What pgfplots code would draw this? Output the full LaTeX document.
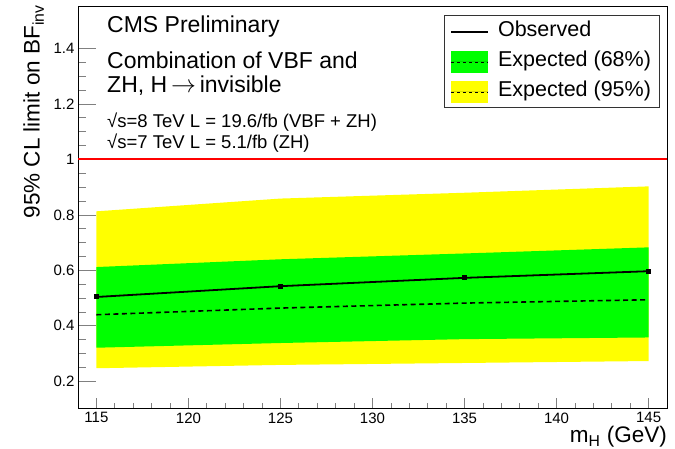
\documentclass[border=0pt]{standalone}
\usepackage{pgfplots}
\pgfplotsset{compat=1.18}
\usepackage{fontspec}
\setmainfont{Liberation Sans}
\definecolor{bandgreen}{RGB}{0,255,0}
\definecolor{bandyellow}{RGB}{255,255,0}
\definecolor{limred}{RGB}{255,0,0}
\begin{document}
\begin{tikzpicture}
\useasboundingbox (0,0) rectangle (675pt,449pt);
\begin{axis}[
  at={(78pt,40pt)}, anchor=south west,
  scale only axis, width=589pt, height=402pt,
  xmin=114, xmax=146, ymin=0.1, ymax=1.55,
  xtick={115,120,...,145}, ytick={0.2,0.4,...,1.4},
  minor x tick num=4, minor y tick num=3,
  xtick pos=bottom, ytick pos=left,
  tick align=inside,
  xtick style={/pgfplots/major tick length=11pt,/pgfplots/minor tick length=6pt, line width=0.8pt},
  ytick style={/pgfplots/major tick length=18pt,/pgfplots/minor tick length=8pt, line width=0.8pt},
  axis line style={line width=1pt},
  /pgf/number format/assume math mode=true,
  tick label style={font=\fontsize{15}{18}\selectfont},
  reverse legend,
  legend style={at={(0.987,0.979)}, anchor=north east, draw=black!80, line width=0.7pt,
    font=\fontsize{21.5}{21.5}\selectfont, inner xsep=6pt, inner ysep=4pt,
    nodes={inner sep=2pt, text height=15pt, text depth=5pt}, row sep=6pt,
    /tikz/every odd column/.append style={column sep=7pt}},
  legend cell align=left,
]
\addplot[draw=none, fill=bandyellow,
  legend image code/.code={\fill[bandyellow] (0pt,-11pt) rectangle (37pt,11pt); \draw[black, dashed, line width=0.5pt] (0pt,0pt) -- (37pt,0pt);}]
  coordinates {(115,0.813) (125,0.859) (135,0.880) (145,0.903) (145,0.273) (135,0.266) (125,0.259) (115,0.247)} -- cycle;
\addlegendentry{Expected (95\%)}
\addplot[draw=none, fill=bandgreen,
  legend image code/.code={\fill[bandgreen] (0pt,-11pt) rectangle (37pt,11pt); \draw[black, dashed, line width=0.5pt] (0pt,0pt) -- (37pt,0pt);}]
  coordinates {(115,0.612) (125,0.640) (135,0.661) (145,0.683) (145,0.358) (135,0.352) (125,0.338) (115,0.321)} -- cycle;
\addlegendentry{Expected (68\%)}
\addplot[forget plot, draw=limred, mark=none, line width=2pt] coordinates {(114,1) (146,1)};
\addplot[forget plot, black, line width=1.6pt, dash pattern=on 5pt off 3.5pt]
  coordinates {(115,0.440) (125,0.464) (135,0.482) (145,0.494)};
\addplot[black, line width=1.8pt, mark=square*, mark size=1.6pt,
  legend image code/.code={\draw[black, line width=1.6pt] (0pt,0pt) -- (37pt,0pt);}]
  coordinates {(115,0.504) (125,0.543) (135,0.573) (145,0.597)};
\addlegendentry{Observed}
\end{axis}
\node[anchor=base west, inner sep=0pt, font=\fontsize{23}{23}\selectfont] at (107pt,416pt) {CMS Preliminary};
\node[anchor=north west, inner sep=0pt, align=left, font=\fontsize{23}{24.5}\selectfont] at (107pt,397.5pt) {Combination of VBF and\\ZH, H\,$\rightarrow$\,invisible};
\node[anchor=base west, inner sep=0pt, font=\fontsize{18.5}{18.5}\selectfont] at (107pt,321pt) {√s=8 TeV L = 19.6/fb (VBF + ZH)};
\node[anchor=base west, inner sep=0pt, font=\fontsize{18.5}{18.5}\selectfont] at (107pt,300pt) {√s=7 TeV L = 5.1/fb (ZH)};
\node[rotate=90, anchor=base east, inner sep=0pt, font=\fontsize{22.5}{22.5}\selectfont] at (39.5pt,444pt) {95\% CL limit on BF\textsubscript{inv}};
\node[anchor=base east, inner sep=0pt, font=\fontsize{22.5}{22.5}\selectfont] at (667pt,6.5pt) {m\textsubscript{H} (GeV)};
\end{tikzpicture}
\end{document}
